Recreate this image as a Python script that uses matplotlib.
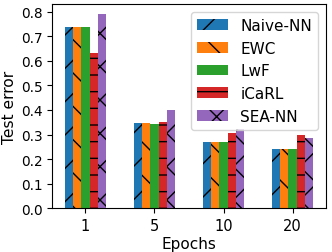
import numpy as np
import matplotlib.pyplot as plt
from matplotlib.ticker import MultipleLocator

# data
epochs = ['1', '5', '10', '20']
methods = ['Naive-NN', 'EWC', 'LwF', 'iCaRL', 'SEA-NN']
naive_nn = [0.737, 0.345, 0.271, 0.241]
ewc = [0.737, 0.345, 0.271, 0.242]
lwf = [0.737, 0.344, 0.268, 0.240]
icarl = [0.633, 0.352, 0.307, 0.297]
sea_nn = [0.790, 0.400, 0.321, 0.285]

series = [naive_nn, ewc, lwf, icarl, sea_nn]
colors = ['#1f77b4', '#ff7f0e', '#2ca02c', '#d62728', '#9467bd']
hatches = ['/', '\\', '', '-', 'x']

plt.rcParams['font.size'] = 11
plt.rcParams['xtick.labelsize'] = 10.5
plt.rcParams['ytick.labelsize'] = 9.8

fig = plt.figure(figsize=(3.32, 2.53), dpi=100)
ax = fig.add_axes([0.1575, 0.1727, 0.8235, 0.8063])

x = np.arange(len(epochs))
width = 0.12
for i, (vals, name) in enumerate(zip(series, methods)):
    ax.bar(x + (i - 2) * width, vals, width, color=colors[i],
           hatch=hatches[i], label=name)

ax.set_xticks(x)
ax.set_xticklabels(epochs)
ax.yaxis.set_major_locator(MultipleLocator(0.1))
ax.set_xlabel('Epochs', labelpad=2)
ax.set_ylabel('Test error', fontsize=11.2, labelpad=3)
ax.legend(loc='upper right')

fig.savefig('out.png', dpi=100)
